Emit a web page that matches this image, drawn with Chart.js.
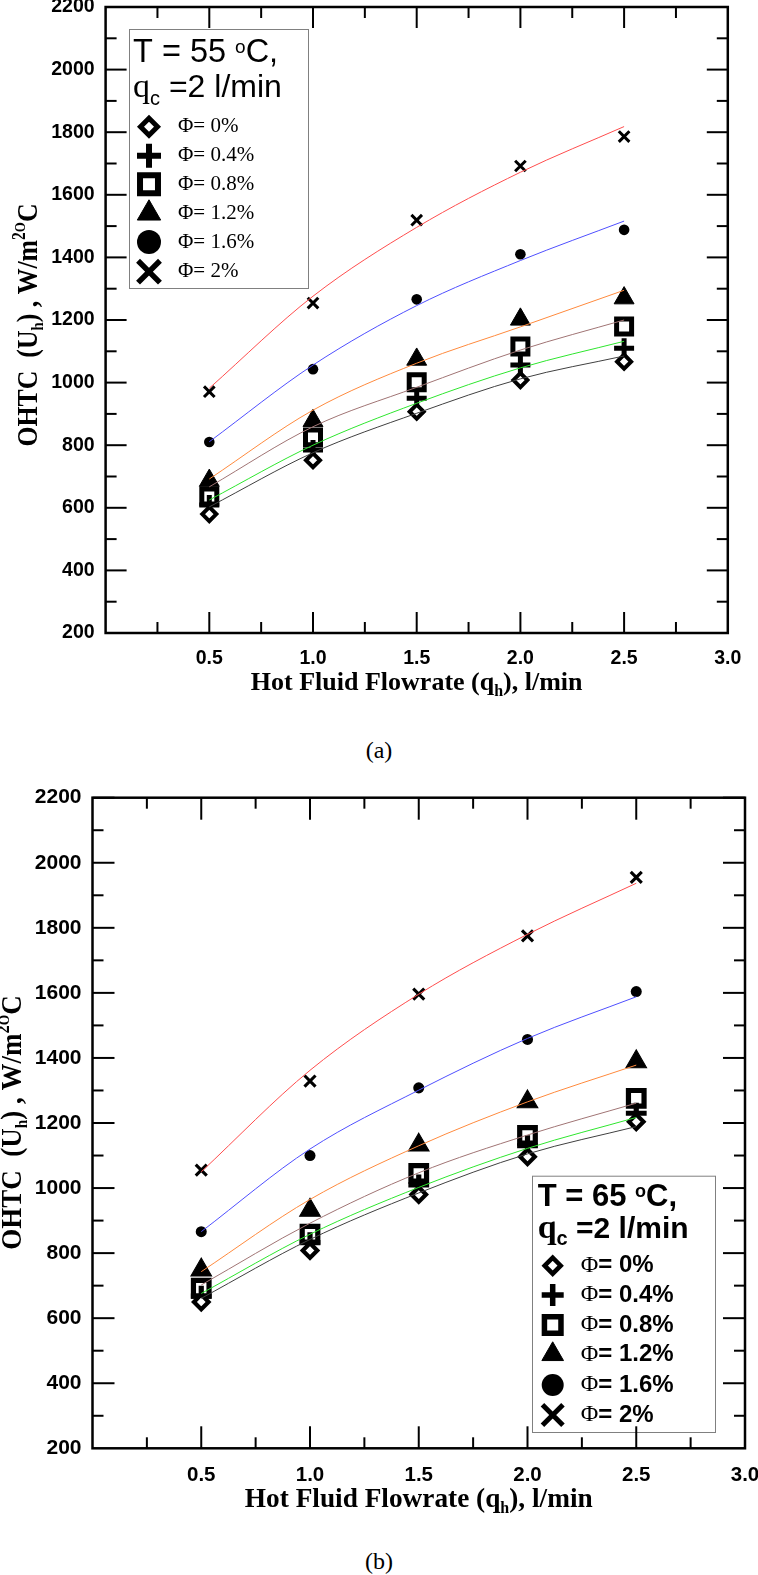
<!DOCTYPE html>
<html>
<head>
<meta charset="utf-8">
<script src="https://cdn.jsdelivr.net/npm/chart.js@4.4.1/dist/chart.umd.min.js"></script>
<style>
  html, body { margin: 0; padding: 0; background: #fff; }
  body { width: 758px; height: 1575px; position: relative; overflow: hidden; }
  .wrap { position: absolute; left: 0; width: 758px; overflow: hidden; }
  .wrap canvas { position: absolute; left: 0; top: -30px; }
  .cap { position: absolute; left: 0; width: 758px; text-align: center;
         font-family: "Liberation Serif", serif; font-size: 24px; line-height: 24px; }
</style>
</head>
<body>
<div class="wrap" style="top:0;height:705px"><canvas id="chartA" width="758" height="735"></canvas></div>
<div class="cap" style="top:738px">(a)</div>
<div class="wrap" style="top:760px;height:780px"><canvas id="chartB" width="778" height="810"></canvas></div>
<div class="cap" style="top:1549px">(b)</div>

<script>
// hot fluid flowrate, l/min
const flowRates = [0.5, 1.0, 1.5, 2.0, 2.5];
const phiNames = ['0%', '0.4%', '0.8%', '1.2%', '1.6%', '2%'];
const xTickLabels = ['0.5', '1.0', '1.5', '2.0', '2.5', '3.0'];
const yTickLabels = [200, 400, 600, 800, 1000, 1200, 1400, 1600, 1800, 2000, 2200];

// (a) T = 55 C, measured points
const u55_0  = [580, 752, 907, 1008, 1067];
const u55_04 = [609, 785, 950, 1056, 1110];
const u55_08 = [636, 825, 1001, 1115, 1179];
const u55_12 = [687, 878, 1074, 1202, 1270];
const u55_16 = [810, 1043, 1266, 1410, 1488];
const u55_2  = [971, 1254, 1519, 1692, 1786];
// (a) fitted curves
const fit55_0  = [603, 776, 902, 1012, 1085];
const fit55_04 = [625, 800, 934, 1047, 1132];
const fit55_08 = [667, 859, 985, 1104, 1200];
const fit55_12 = [692, 912, 1062, 1178, 1295];
const fit55_16 = [811, 1056, 1246, 1390, 1516];
const fit55_2  = [982, 1276, 1496, 1672, 1818];

// (b) T = 65 C, measured points
const u65_0  = [650, 808, 980, 1096, 1204];
const u65_04 = [668, 832, 1010, 1130, 1230];
const u65_08 = [692, 858, 1045, 1162, 1276];
const u65_12 = [748, 932, 1132, 1265, 1388];
const u65_16 = [866, 1100, 1308, 1457, 1604];
const u65_2  = [1055, 1329, 1596, 1775, 1955];
// (b) fitted curves
const fit65_0  = [661, 842, 985, 1105, 1189];
const fit65_04 = [676, 858, 1002, 1122, 1217];
const fit65_08 = [702, 892, 1047, 1163, 1261];
const fit65_12 = [743, 965, 1130, 1265, 1378];
const fit65_16 = [866, 1120, 1301, 1460, 1588];
const fit65_2  = [1050, 1362, 1596, 1780, 1937];

const fitColors = ['#404040', '#2ee62e', '#a07474', '#ff8a3d', '#4f4fff', '#ff4d4d'];

const markers = [
  { pointStyle: 'rectRot',  radius: 7,    borderWidth: 4, fill: '#fff' },
  { pointStyle: 'cross',    radius: 10,   borderWidth: 5, fill: '#000' },
  { pointStyle: 'rect',     radius: 10.6, borderWidth: 5, fill: '#fff' },
  { pointStyle: 'triangle', radius: 11.5, borderWidth: 1, fill: '#000' },
  { pointStyle: 'circle',   radius: 5.3,  borderWidth: 0, fill: '#000' },
  { pointStyle: 'crossRot', radius: 7.5,  borderWidth: 3, fill: '#000' }
];
const legendMarkersA = [
  { pointStyle: 'rectRot',  radius: 8.5,  borderWidth: 5,   fill: '#fff' },
  { pointStyle: 'cross',    radius: 12,   borderWidth: 6,   fill: '#000' },
  { pointStyle: 'rect',     radius: 12.7, borderWidth: 6,   fill: '#fff' },
  { pointStyle: 'triangle', radius: 13.5, borderWidth: 1,   fill: '#000' },
  { pointStyle: 'circle',   radius: 12,   borderWidth: 0,   fill: '#000' },
  { pointStyle: 'crossRot', radius: 15.5, borderWidth: 5.5, fill: '#000' }
];
const legendMarkersB = [
  { pointStyle: 'rectRot',  radius: 8,    borderWidth: 4.5, fill: '#fff' },
  { pointStyle: 'cross',    radius: 11,   borderWidth: 5.5, fill: '#000' },
  { pointStyle: 'rect',     radius: 11.7, borderWidth: 5.5, fill: '#fff' },
  { pointStyle: 'triangle', radius: 12.5, borderWidth: 1,   fill: '#000' },
  { pointStyle: 'circle',   radius: 11,   borderWidth: 0,   fill: '#000' },
  { pointStyle: 'crossRot', radius: 14.5, borderWidth: 5,   fill: '#000' }
];

const SANS = '"Liberation Sans", Arial, sans-serif';
const SERIF = '"Liberation Serif", "Times New Roman", serif';

function drawRuns(ctx, runs, x, y, align) {
  let w = 0;
  runs.forEach(r => { ctx.font = r[1]; w += ctx.measureText(r[0]).width; });
  let cx = align === 'center' ? x - w / 2 : x;
  ctx.textAlign = 'left';
  runs.forEach(r => {
    ctx.font = r[1];
    ctx.fillText(r[0], cx, y + (r[2] || 0));
    cx += ctx.measureText(r[0]).width;
  });
}

function drawSymbol(ctx, m, x, y) {
  ctx.save();
  ctx.fillStyle = m.fill;
  ctx.strokeStyle = '#000';
  ctx.lineWidth = m.borderWidth;
  Chart.helpers.drawPoint(ctx, { pointStyle: m.pointStyle, radius: m.radius, borderWidth: m.borderWidth, rotation: 0 }, x, y);
  ctx.restore();
}

function framePlugin(look) {
  return {
    id: 'frame',
    beforeDatasetsDraw(chart) {
      const ctx = chart.ctx;
      const lg = look.legend;
      ctx.save();
      ctx.fillStyle = '#fff';
      ctx.fillRect(lg.box[0], lg.box[1], lg.box[2], lg.box[3]);
      ctx.strokeStyle = '#808080';
      ctx.lineWidth = 1;
      ctx.strokeRect(lg.box[0] + 0.5, lg.box[1] + 0.5, lg.box[2], lg.box[3]);
      ctx.fillStyle = '#000';
      ctx.textBaseline = 'alphabetic';
      drawRuns(ctx, lg.line1, lg.x, lg.y1);
      drawRuns(ctx, lg.line2, lg.x, lg.y2);
      phiNames.forEach((n, i) => {
        drawSymbol(ctx, lg.sym[i], lg.symX, lg.rowY[i]);
        ctx.fillStyle = '#000';
        ctx.textBaseline = 'middle';
        drawRuns(ctx, lg.row(n), lg.textX, lg.rowY[i]);
      });
      ctx.restore();
    },
    afterDatasetsDraw(chart) {
      const ctx = chart.ctx;
      const a = chart.chartArea;
      const xs = chart.scales.x, ys = chart.scales.y;
      ctx.save();
      ctx.strokeStyle = '#000';
      ctx.lineWidth = look.tickWidth;
      const seg = (x1, y1, x2, y2) => { ctx.beginPath(); ctx.moveTo(x1, y1); ctx.lineTo(x2, y2); ctx.stroke(); };
      for (let k = 1; k < 12; k++) {
        const v = xs.min + k * 0.25;
        const len = k % 2 === 0 ? look.majorLen : look.minorLen;
        const px = xs.getPixelForValue(v);
        seg(px, a.bottom, px, a.bottom - len);
        seg(px, a.top, px, a.top + len);
      }
      for (let k = 1; k <= 20; k++) {
        const v = ys.min + k * 100;
        const len = k % 2 === 0 ? look.majorLen : look.minorLen;
        const py = ys.getPixelForValue(v);
        seg(a.left, py, a.left + len, py);
        seg(a.right, py, a.right - len, py);
      }
      ctx.lineWidth = look.frameWidth;
      ctx.strokeRect(a.left, a.top, a.right - a.left, a.bottom - a.top);

      ctx.fillStyle = '#000';
      ctx.textBaseline = 'alphabetic';
      const xf = look.xTitleSize, yf = look.yTitleSize;
      drawRuns(ctx, [
        ['Hot Fluid Flowrate (q', 'bold ' + xf + 'px ' + SERIF],
        ['h', 'bold ' + Math.round(xf * 0.6) + 'px ' + SERIF, xf * 0.22],
        ['), l/min', 'bold ' + xf + 'px ' + SERIF]
      ], (a.left + a.right) / 2, look.xTitleY, 'center');

      ctx.translate(look.yTitleX, look.yTitleY);
      ctx.rotate(-Math.PI / 2);
      ctx.scale(look.yTitleSqueeze, 1);
      drawRuns(ctx, [
        ['OHTC  (U', 'bold ' + yf + 'px ' + SERIF],
        ['h', 'bold ' + Math.round(yf * 0.55) + 'px ' + SERIF, yf * 0.2],
        [') , W/m', 'bold ' + yf + 'px ' + SERIF],
        ['2', 'bold ' + Math.round(yf * 0.6) + 'px ' + SERIF, -yf * 0.4],
        ['O', 'bold ' + Math.round(yf * 0.5) + 'px ' + SERIF, -yf * 0.4],
        ['C', 'bold ' + yf + 'px ' + SERIF]
      ], 0, 0, 'center');
      ctx.restore();
    }
  };
}

function buildChart(id, pts, fits, look) {
  const datasets = [];
  fits.forEach((f, i) => datasets.push({
    type: 'line',
    data: flowRates.map((x, k) => ({ x: x, y: f[k] })),
    borderColor: fitColors[i],
    borderWidth: 1,
    pointRadius: 0,
    fill: false,
    cubicInterpolationMode: 'monotone',
    order: 0
  }));
  pts.forEach((p, i) => {
    const m = markers[i];
    datasets.push({
      type: 'scatter',
      data: flowRates.map((x, k) => ({ x: x, y: p[k] })),
      pointStyle: m.pointStyle,
      pointRadius: m.radius * look.mk,
      pointBorderWidth: m.borderWidth * look.mk,
      pointBackgroundColor: m.fill,
      pointBorderColor: '#000',
      showLine: false,
      order: 1
    });
  });

  return new Chart(document.getElementById(id), {
    type: 'scatter',
    data: { datasets },
    options: {
      responsive: false,
      animation: false,
      events: [],
      layout: { padding: look.padding },
      plugins: { legend: { display: false }, tooltip: { enabled: false } },
      scales: {
        x: {
          type: 'linear', min: 0, max: 3,
          ticks: {
            stepSize: 0.5, autoSkip: false, maxRotation: 0, padding: look.xPad, color: '#000',
            font: { family: SANS, weight: 'bold', size: look.xTickSize },
            callback: v => xTickLabels.includes(v.toFixed(1)) ? v.toFixed(1) : ''
          },
          grid: { display: false, drawTicks: false },
          border: { display: false },
          afterFit: s => { s.height = look.xHeight; }
        },
        y: {
          type: 'linear', min: 200, max: 2200,
          ticks: {
            stepSize: 200, autoSkip: false, padding: look.yPad, color: '#000',
            font: { family: SANS, weight: 'bold', size: look.yTickSize },
            callback: v => yTickLabels.includes(v) ? String(v) : ''
          },
          grid: { display: false, drawTicks: false },
          border: { display: false },
          afterFit: s => { s.width = look.yWidth; }
        }
      }
    },
    plugins: [framePlugin(look)]
  });
}

// canvas A: page y = canvas y - 30
buildChart('chartA',
  [u55_0, u55_04, u55_08, u55_12, u55_16, u55_2],
  [fit55_0, fit55_04, fit55_08, fit55_12, fit55_16, fit55_2],
  {
    padding: { top: 37, right: 30.2, left: 0, bottom: 0 },
    yWidth: 105.6, xHeight: 72,
    xTickSize: 19.5, yTickSize: 19.5, xPad: 14, yPad: 11,
    majorLen: 21, minorLen: 11, tickWidth: 2, frameWidth: 2.5,
    xTitleSize: 26, xTitleY: 720,
    yTitleSize: 30, yTitleSqueeze: 0.86, yTitleX: 37, yTitleY: 355,
    mk: 1,
    legend: {
      box: [129, 59, 179, 259],
      x: 133, y1: 91.7, y2: 127.3,
      line1: [['T = 55 ', '32.5px ' + SANS], ['o', '19px ' + SANS, -9], ['C,', '32.5px ' + SANS]],
      line2: [['q', '34px ' + SERIF], ['c', '20px ' + SANS, 8], [' =2 l/min', '32px ' + SANS]],
      symX: 149, textX: 178,
      rowY: [156.7, 185.7, 214.3, 243.3, 272, 301.7],
      row: n => [['\u03A6= ' + n, '21px ' + SERIF]],
      sym: legendMarkersA
    }
  });

// canvas B: page y = canvas y + 730
buildChart('chartB',
  [u65_0, u65_04, u65_08, u65_12, u65_16, u65_2],
  [fit65_0, fit65_04, fit65_08, fit65_12, fit65_16, fit65_2],
  {
    padding: { top: 67.7, right: 33, left: 0, bottom: 0 },
    yWidth: 92.5, xHeight: 91.7,
    xTickSize: 20.5, yTickSize: 21, xPad: 15, yPad: 11,
    majorLen: 22, minorLen: 11, tickWidth: 2, frameWidth: 2.5,
    xTitleSize: 27.3, xTitleY: 776.7,
    yTitleSize: 30, yTitleSqueeze: 0.9, yTitleX: 21, yTitleY: 392.5,
    mk: 1.04,
    legend: {
      box: [532, 445.7, 183, 256.3],
      x: 537.7, y1: 476, y2: 508,
      line1: [['T = 65 ', 'bold 31px ' + SANS], ['o', 'bold 18px ' + SANS, -9], ['C,', 'bold 31px ' + SANS]],
      line2: [['q', 'bold 34px ' + SERIF], ['c', 'bold 20px ' + SANS, 7], [' =2 l/min', 'bold 30px ' + SANS]],
      symX: 552.7, textX: 580.7,
      rowY: [535.7, 565, 595, 624.3, 655, 685],
      row: n => [['\u03A6', '24px ' + SERIF], ['= ' + n, 'bold 24px ' + SANS]],
      sym: legendMarkersB
    }
  });
</script>
</body>
</html>
